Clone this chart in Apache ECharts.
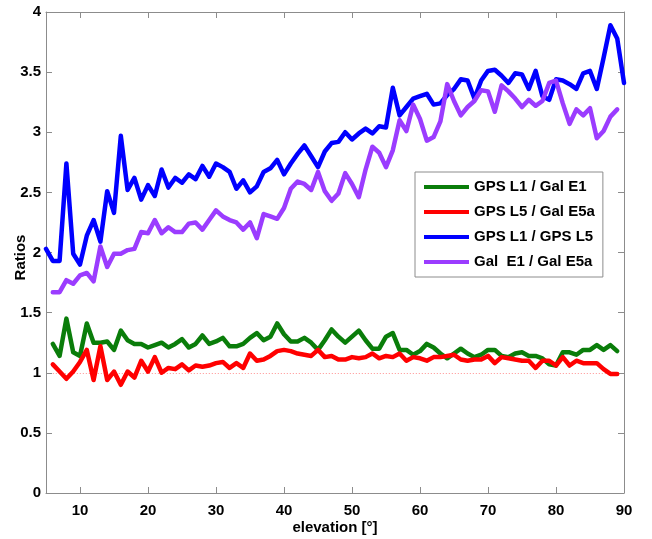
<!DOCTYPE html>
<html>
<head>
<meta charset="utf-8">
<script src="https://cdn.jsdelivr.net/npm/echarts@6/dist/echarts.min.js"></script>
<style>
html,body{margin:0;padding:0;background:#fff;}
#chart{width:652px;height:539px;}
</style>
</head>
<body>
<div id="chart"></div>
<script>
// elevation samples (degrees)
const elevation = [5,6,7,8,9,10,11,12,13,14,15,16,17,18,19,20,21,22,23,24,25,26,27,28,29,30,31,32,33,34,35,36,37,38,39,40,41,42,43,44,45,46,47,48,49,50,51,52,53,54,55,56,57,58,59,60,61,62,63,64,65,66,67,68,69,70,71,72,73,74,75,76,77,78,79,80,81,82,83,84,85,86,87,88,89,90];

const seriesNames = ['GPS L1 / Gal E1', 'GPS L5 / Gal E5a', 'GPS L1 / GPS L5', 'Gal  E1 / Gal E5a'];

const gpsL1GalE1 = [null,1.24,1.14,1.45,1.17,1.14,1.41,1.25,1.25,1.26,1.19,1.35,1.27,1.24,1.24,1.21,1.23,1.25,1.21,1.24,1.28,1.21,1.24,1.31,1.24,1.26,1.29,1.22,1.22,1.24,1.29,1.33,1.27,1.30,1.41,1.32,1.26,1.26,1.29,1.25,1.19,1.27,1.36,1.30,1.25,1.30,1.35,1.27,1.20,1.20,1.30,1.33,1.19,1.19,1.15,1.18,1.24,1.21,1.16,1.12,1.16,1.20,1.16,1.13,1.15,1.19,1.19,1.14,1.13,1.16,1.17,1.14,1.14,1.12,1.07,1.06,1.17,1.17,1.15,1.19,1.19,1.23,1.19,1.23,1.18,null];

const gpsL5GalE5a = [null,1.07,1.01,0.95,1.01,1.09,1.19,0.94,1.22,0.94,1.01,0.90,1.01,0.96,1.10,1.01,1.13,1.00,1.04,1.03,1.07,1.02,1.06,1.05,1.06,1.08,1.09,1.04,1.08,1.04,1.16,1.10,1.11,1.14,1.18,1.19,1.18,1.16,1.15,1.14,1.19,1.13,1.14,1.11,1.11,1.13,1.12,1.13,1.16,1.12,1.14,1.13,1.16,1.10,1.13,1.12,1.10,1.13,1.13,1.14,1.15,1.11,1.10,1.11,1.11,1.14,1.08,1.13,1.12,1.11,1.10,1.10,1.04,1.10,1.10,1.06,1.13,1.06,1.10,1.08,1.08,1.08,1.03,0.99,0.99,null];

const gpsL1GpsL5 = [2.03,1.93,1.93,2.74,1.99,1.90,2.14,2.27,2.09,2.51,2.33,2.97,2.52,2.62,2.44,2.56,2.47,2.69,2.54,2.62,2.58,2.65,2.61,2.72,2.63,2.74,2.71,2.67,2.53,2.60,2.50,2.55,2.67,2.70,2.77,2.65,2.74,2.82,2.89,2.80,2.71,2.84,2.91,2.92,3.00,2.94,2.99,3.03,2.99,3.05,3.04,3.37,3.14,3.21,3.28,3.30,3.32,3.23,3.24,3.31,3.36,3.44,3.43,3.28,3.43,3.51,3.52,3.47,3.41,3.49,3.48,3.36,3.51,3.30,3.27,3.44,3.43,3.40,3.36,3.49,3.51,3.36,3.62,3.89,3.78,3.41];

const galE1GalE5a = [null,1.67,1.67,1.77,1.74,1.81,1.83,1.76,2.05,1.88,1.99,1.99,2.02,2.03,2.17,2.16,2.27,2.16,2.21,2.17,2.17,2.24,2.25,2.19,2.27,2.35,2.30,2.27,2.25,2.19,2.25,2.12,2.32,2.30,2.28,2.37,2.53,2.59,2.57,2.52,2.67,2.51,2.43,2.49,2.66,2.57,2.46,2.69,2.88,2.83,2.71,2.85,3.10,3.01,3.23,3.11,2.93,2.96,3.09,3.40,3.26,3.14,3.21,3.26,3.35,3.34,3.17,3.39,3.34,3.28,3.21,3.27,3.22,3.26,3.41,3.43,3.24,3.07,3.19,3.14,3.20,2.95,3.01,3.13,3.19,null];

const xTicks = [10,20,30,40,50,60,70,80,90];
const yTicks = [0,0.5,1,1.5,2,2.5,3,3.5,4];
const refLevel = 1;
const refRange = [6, 89];

const colors = ['#0a7d0a', '#ff0000', '#0000ff', '#9b3cff'];
const FONT = '"Liberation Sans", Arial, sans-serif';
const AXIS_COLOR = '#8c8c8c';

function pairs(vals){ return elevation.map((e,i)=>[e, vals[i]]); }

const chart = echarts.init(document.getElementById('chart'), null, {renderer:'canvas'});

const baseX = {
  type:'value', min:5, max:90,
  axisLine:{show:true, onZero:false, lineStyle:{color:AXIS_COLOR, width:1}},
  splitLine:{show:false},
};
const baseY = {
  type:'value', min:0, max:4, interval:0.5,
  axisLine:{show:true, onZero:false, lineStyle:{color:AXIS_COLOR, width:1}},
  splitLine:{show:false},
};

chart.setOption({
  animation:false,
  backgroundColor:'#ffffff',
  textStyle:{fontFamily:FONT},
  grid:{left:46, right:28, top:12, bottom:46, containLabel:false, outerBoundsMode:'none'},
  xAxis:[
    Object.assign({}, baseX, {
      position:'bottom',
      name:'elevation [°]', nameLocation:'middle', nameGap:27, nameMoveOverlap:false,
      nameTextStyle:{fontFamily:FONT, fontSize:15, fontWeight:'bold', color:'#000'},
      axisTick:{show:true, inside:true, length:6, lineStyle:{color:AXIS_COLOR}, customValues:xTicks},
      axisLabel:{show:true, margin:10, fontFamily:FONT, fontSize:15, fontWeight:'bold', color:'#000', customValues:xTicks}
    }),
    Object.assign({}, baseX, {
      position:'top',
      axisTick:{show:true, inside:true, length:6, lineStyle:{color:AXIS_COLOR}, customValues:xTicks},
      axisLabel:{show:false}
    })
  ],
  yAxis:[
    Object.assign({}, baseY, {
      position:'left',
      name:'Ratios', nameLocation:'middle', nameGap:18, nameMoveOverlap:false,
      nameTextStyle:{fontFamily:FONT, fontSize:15, fontWeight:'bold', color:'#000', padding:[0,10,0,0]},
      axisTick:{show:true, inside:true, length:6, lineStyle:{color:AXIS_COLOR}, customValues:yTicks},
      axisLabel:{show:true, margin:5, fontFamily:FONT, fontSize:15, fontWeight:'bold', color:'#000', customValues:yTicks}
    }),
    Object.assign({}, baseY, {
      position:'right',
      axisTick:{show:true, inside:true, length:6, lineStyle:{color:AXIS_COLOR}, customValues:yTicks},
      axisLabel:{show:false}
    })
  ],
  legend:{
    orient:'vertical',
    left:415, top:172,
    data:seriesNames,
    icon:'rect',
    itemWidth:45, itemHeight:4,
    itemGap:9,
    padding:[7,8,7,9],
    borderColor:'#8c8c8c', borderWidth:1,
    backgroundColor:'#ffffff',
    textStyle:{fontFamily:FONT, fontSize:15, fontWeight:'bold', color:'#000', lineHeight:16}
  },
  series:[
    {name:seriesNames[0], data:gpsL1GalE1},
    {name:seriesNames[1], data:gpsL5GalE5a},
    {name:seriesNames[2], data:gpsL1GpsL5},
    {name:seriesNames[3], data:galE1GalE5a}
  ].map((s,i)=>{
    const out = {
      name:s.name, type:'line', data:pairs(s.data),
      xAxisIndex:0, yAxisIndex:0,
      showSymbol:false, symbol:'none', connectNulls:false,
      color:colors[i],
      itemStyle:{color:colors[i]},
      lineStyle:{color:colors[i], width:4.5, join:'round', cap:'round'},
      z:2+i
    };
    if (i===1){
      out.markLine = {
        silent:true, symbol:'none', label:{show:false},
        lineStyle:{color:'#ff9090', type:[1,2], width:1},
        data:[[{coord:[refRange[0], refLevel]},{coord:[refRange[1], refLevel]}]],
        z:1
      };
    }
    return out;
  })
});
</script>
</body>
</html>
